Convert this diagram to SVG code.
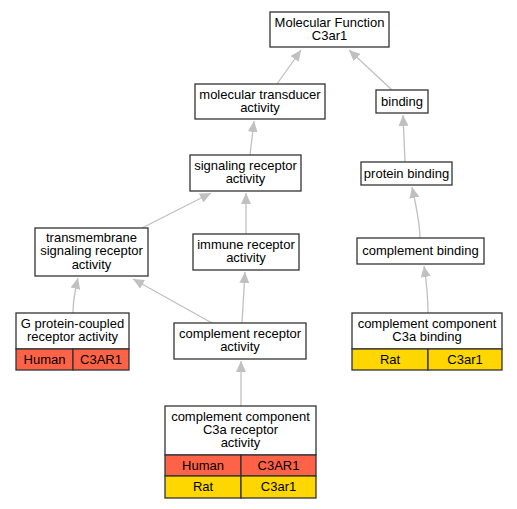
<svg xmlns="http://www.w3.org/2000/svg" width="517" height="509" viewBox="0 0 517 509">
<defs>
<marker id="ah" markerUnits="userSpaceOnUse" markerWidth="11" markerHeight="10" refX="11" refY="5" orient="auto">
<path d="M0,0 L11,5 L0,10 z" fill="#c0c0c0"/>
</marker>
<style>
.box{fill:#fff;stroke:#333;stroke-width:1.3}
.hum{fill:#ff6347;stroke:#333;stroke-width:1.3}
.rat{fill:#ffd700;stroke:#333;stroke-width:1.3}
text{font-family:"Liberation Sans",Arial,sans-serif;font-size:13px;fill:#000;text-anchor:middle}
.e{fill:none;stroke:#c0c0c0;stroke-width:1.3;marker-end:url(#ah)}
</style>
</defs>
<rect width="517" height="509" fill="#fff"/>
<g id="edges">
<path class="e" d="M277,84 L301,50"/>
<path class="e" d="M392,90 L349,50"/>
<path class="e" d="M250,155 L254,121"/>
<path class="e" d="M405,162 L403,115"/>
<path class="e" d="M142,228 L211,193"/>
<path class="e" d="M246,234 L246,193"/>
<path class="e" d="M420,238 C420,225 416,205 412,187"/>
<path class="e" d="M73,313 C73,300 75,290 78,278"/>
<path class="e" d="M212,323 L133,279"/>
<path class="e" d="M242,323 L245,272"/>
<path class="e" d="M428,313 C428,300 427,285 424,266"/>
<path class="e" d="M241,406 L241,361"/>
</g>
<g id="n_mf">
<rect class="box" x="270" y="12" width="119" height="35"/>
<text x="329.5" y="27">Molecular Function</text>
<text x="329.5" y="40">C3ar1</text>
</g>
<g id="n_mt">
<rect class="box" x="195" y="84" width="130" height="35"/>
<text x="260" y="99">molecular transducer</text>
<text x="260" y="112">activity</text>
</g>
<g id="n_binding">
<rect class="box" x="376" y="90" width="52" height="23"/>
<text x="402" y="106">binding</text>
</g>
<g id="n_sr">
<rect class="box" x="190" y="155" width="111" height="36"/>
<text x="245.5" y="170">signaling receptor</text>
<text x="245.5" y="183">activity</text>
</g>
<g id="n_pb">
<rect class="box" x="361" y="162" width="91" height="23"/>
<text x="406.5" y="178">protein binding</text>
</g>
<g id="n_tm">
<rect class="box" x="35" y="228" width="113" height="48"/>
<text x="91.5" y="242">transmembrane</text>
<text x="91.5" y="255">signaling receptor</text>
<text x="91.5" y="269">activity</text>
</g>
<g id="n_ir">
<rect class="box" x="193" y="234" width="106" height="36"/>
<text x="246" y="249">immune receptor</text>
<text x="246" y="262">activity</text>
</g>
<g id="n_cb">
<rect class="box" x="357" y="238" width="127" height="26"/>
<text x="420.5" y="255">complement binding</text>
</g>
<g id="n_gpcr">
<rect class="box" x="16" y="313" width="113" height="36"/>
<text x="72.5" y="328">G protein-coupled</text>
<text x="72.5" y="341">receptor activity</text>
<rect class="hum" x="16" y="349" width="57" height="21"/>
<rect class="hum" x="73" y="349" width="56" height="21"/>
<text x="44.5" y="364">Human</text>
<text x="101" y="364">C3AR1</text>
</g>
<g id="n_cr">
<rect class="box" x="174" y="323" width="132" height="36"/>
<text x="240" y="338">complement receptor</text>
<text x="240" y="351">activity</text>
</g>
<g id="n_c3ab">
<rect class="box" x="352" y="313" width="150" height="36"/>
<text x="427" y="328">complement component</text>
<text x="427" y="341">C3a binding</text>
<rect class="rat" x="352" y="349" width="76" height="21"/>
<rect class="rat" x="428" y="349" width="74" height="21"/>
<text x="390" y="364">Rat</text>
<text x="465" y="364">C3ar1</text>
</g>
<g id="n_c3ar">
<rect class="box" x="165" y="406" width="151" height="49"/>
<text x="240.5" y="421">complement component</text>
<text x="240.5" y="434">C3a receptor</text>
<text x="240.5" y="447">activity</text>
<rect class="hum" x="165" y="455" width="76" height="21"/>
<rect class="hum" x="241" y="455" width="75" height="21"/>
<text x="203" y="470">Human</text>
<text x="278.5" y="470">C3AR1</text>
<rect class="rat" x="165" y="476" width="76" height="22"/>
<rect class="rat" x="241" y="476" width="75" height="22"/>
<text x="203" y="491">Rat</text>
<text x="278.5" y="491">C3ar1</text>
</g>
</svg>
